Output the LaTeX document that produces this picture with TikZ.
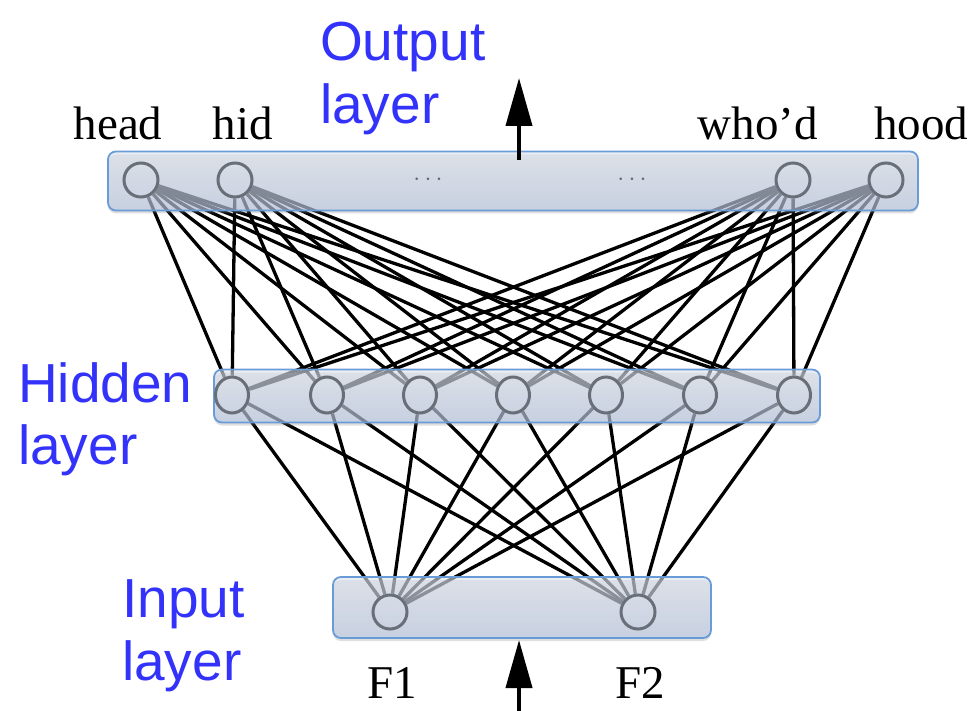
\documentclass[tikz,border=0pt]{standalone}
\usepackage{fontspec}
\setmainfont{Liberation Serif}
\newfontfamily\blfont{Liberation Sans}
\usetikzlibrary{arrows.meta,shadows,shapes.geometric}
\definecolor{nodegray}{RGB}{105,111,121}
\definecolor{boxblue}{RGB}{105,155,215}
\definecolor{boxtop}{RGB}{220,226,238}
\definecolor{boxbot}{RGB}{184,199,226}
\definecolor{labelblue}{RGB}{50,50,250}
\definecolor{dotgray}{RGB}{100,105,115}
\pgfdeclarelayer{lines}
\pgfdeclarelayer{boxes}
\pgfsetlayers{lines,boxes,main}
\begin{document}
\begin{tikzpicture}[x=1pt,y=-1pt,
  neuron/.style={circle, draw=nodegray, line width=3, minimum size=34, inner sep=0},
  hneuron/.style={ellipse, draw=nodegray, line width=3, minimum width=33, minimum height=36, inner sep=0},
  layerbox/.style={draw=boxblue, line width=1.8, rounded corners=8, top color=boxtop, bottom color=boxbot, fill opacity=0.6, inner sep=0,
     drop shadow={opacity=0.25, shadow xshift=0pt, shadow yshift=-3pt}},
  conn/.style={line width=3.3, black},
  bluelabel/.style={font=\blfont\fontsize{55}{60}\selectfont, text=labelblue, inner sep=0, anchor=base west},
  wordlabel/.style={font=\fontsize{47}{52}\selectfont, inner sep=0, anchor=base},
  dotslabel/.style={font=\fontsize{48}{48}\selectfont, text=dotgray, inner sep=0},
  bigarrow/.style={line width=4, -{Triangle[length=48,width=26]}}
]
\useasboundingbox (0,0) rectangle (976,711);

% output neurons
\node[neuron] (o1) at (141,180) {};
\node[neuron] (o2) at (235,180) {};
\node[neuron] (o3) at (793,180) {};
\node[neuron] (o4) at (886,180) {};
% hidden neurons
\foreach \i/\x in {1/232,2/327,3/420,4/513,5/606,6/700,7/794}
  \node[hneuron] (h\i) at (\x,395) {};
% input neurons
\node[neuron] (f1) at (390,612) {};
\node[neuron] (f2) at (638,612) {};

% connections
\begin{pgfonlayer}{lines}
\foreach \o in {o1,o2,o3,o4}
  \foreach \h in {1,...,7}
    \draw[conn] (\o) -- (h\h);
\foreach \h in {1,...,7}
  \foreach \f in {f1,f2}
    \draw[conn] (h\h) -- (\f);
\end{pgfonlayer}

% layer boxes
\begin{pgfonlayer}{boxes}
\node[layerbox, minimum width=810, minimum height=59] (outbox) at (513,181) {};
\node[layerbox, minimum width=606, minimum height=53] (hidbox) at (517,396) {};
\node[layerbox, minimum width=378, minimum height=61] (inbox) at (522,607.5) {};
\end{pgfonlayer}

% dots
\node[dotslabel] (d1) at (428,180) {$\cdots$};
\node[dotslabel] (d2) at (632,180) {$\cdots$};

% arrows
\coordinate (tA) at (519,160);
\coordinate (tB) at (519,78);
\draw[bigarrow] (tA) -- (tB);
\coordinate (bA) at (519,711);
\coordinate (bB) at (519,640);
\draw[bigarrow] (bA) -- (bB);

% blue labels
\node[bluelabel] (lo1) at (320,61) {Output};
\node[bluelabel] (lo2) at (320,124) {layer};
\node[bluelabel] (lh1) at (18,402) {Hidden};
\node[bluelabel] (lh2) at (18,464) {layer};
\node[bluelabel] (li1) at (122,617) {Input};
\node[bluelabel] (li2) at (122,680) {layer};

% word labels
\node[wordlabel] (w1) at (118,140) {head};
\node[wordlabel] (w2) at (243,140) {hid};
\node[wordlabel] (w3) at (758,140) {who’d};
\node[wordlabel] (w4) at (921,140) {hood};
\node[wordlabel] (w5) at (392,698) {F1};
\node[wordlabel] (w6) at (640,698) {F2};
\end{tikzpicture}
\end{document}
